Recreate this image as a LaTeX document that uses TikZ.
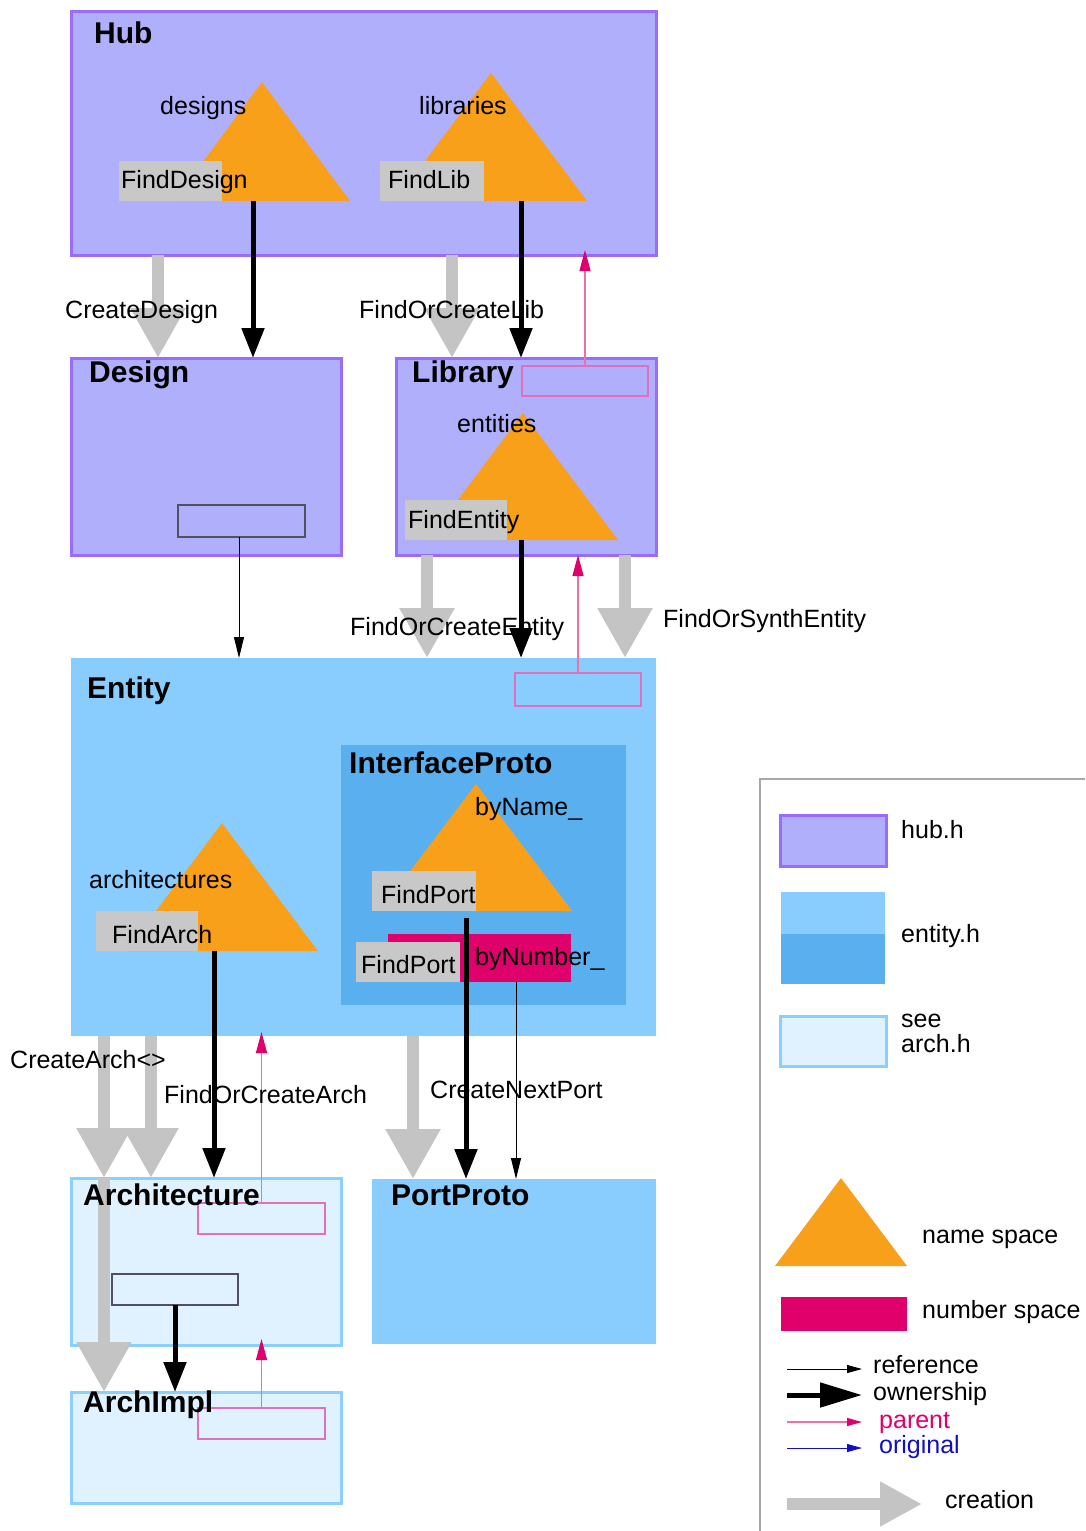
\documentclass[tikz,border=0pt]{standalone}
\usepackage{fontspec}
\setmainfont{Liberation Sans}
\usetikzlibrary{arrows.meta}
\definecolor{hubfill}{HTML}{AFAFFC}
\definecolor{hubline}{HTML}{9A6BFF}
\definecolor{entfill}{HTML}{88CDFE}
\definecolor{entdark}{HTML}{5AB0EE}
\definecolor{archfill}{HTML}{E0F1FF}
\definecolor{archline}{HTML}{8ACFFF}
\definecolor{nsorange}{HTML}{F9A01B}
\definecolor{numfill}{HTML}{E0006B}
\definecolor{lblgray}{HTML}{C8C8C8}
\definecolor{creategray}{HTML}{C4C4C4}
\definecolor{parentline}{HTML}{EE70AA}
\definecolor{parenthead}{HTML}{E0006B}
\definecolor{pinkbox}{HTML}{E070BE}
\definecolor{origblue}{HTML}{1010C0}
\definecolor{refbox}{HTML}{505060}
\definecolor{legline}{HTML}{A8A8A8}
\begin{document}
\begin{tikzpicture}[x=1pt,y=-1pt,
  box/.style={anchor=north west, inner sep=0pt, outer sep=0pt},
  hubbox/.style={box, fill=hubfill, draw=hubline, line width=3pt},
  entbox/.style={box, fill=entfill},
  protobox/.style={box, fill=entdark},
  archbox/.style={box, fill=archfill, draw=archline, line width=3pt},
  refrect/.style={box, draw=refbox, line width=1.2pt},
  pinkrect/.style={box, draw=pinkbox, line width=1.2pt},
  numrect/.style={box, fill=numfill},
  lblbox/.style={box, fill=lblgray},
  nsfill/.style={fill=nsorange},
  txt/.style={anchor=base west, inner sep=0pt, font=\fontsize{25}{28}\selectfont},
  ttl/.style={anchor=base west, inner sep=0pt, font=\fontsize{30}{34}\selectfont\bfseries},
  createarrow/.style={draw=creategray, line width=12pt, line cap=butt, -{Triangle[width=52pt,length=50pt]}},
  ownarrow/.style={draw=black, line width=5pt, line cap=butt, -{Triangle[width=22pt,length=30pt]}},
  refarrow/.style={draw=black, line width=0.9pt, -{Triangle[width=10pt,length=21pt]}},
  parentarrow/.style={draw=parentline, line width=1.3pt, -{Triangle[width=11pt,length=21pt,color=parenthead]}},
]
% background and fixed bounds
\useasboundingbox (0,0) rectangle (1085,1531);
\fill[white] (0,0) rectangle (1085,1531);

% ---------- main boxes ----------
\node[hubbox, minimum width=585pt, minimum height=244pt] (hub) at (71,11) {};
\node[hubbox, minimum width=270pt, minimum height=197pt] (design) at (71,358) {};
\node[hubbox, minimum width=260pt, minimum height=197pt] (library) at (396,358) {};
\node[entbox, minimum width=585pt, minimum height=378pt] (entity) at (71,658) {};
\node[protobox, minimum width=285pt, minimum height=260pt] (iproto) at (341,745) {};
\node[archbox, minimum width=270pt, minimum height=167pt] (arch) at (71,1178) {};
\node[archbox, minimum width=270pt, minimum height=111pt] (archimpl) at (71,1392) {};
\node[entbox, minimum width=284pt, minimum height=165pt] (portproto) at (372,1179) {};

% ---------- inner rectangles ----------
\node[refrect, minimum width=127pt, minimum height=32pt] (dref) at (178,505) {};
\node[pinkrect, minimum width=126pt, minimum height=30pt] (lpink) at (522,366) {};
\node[pinkrect, minimum width=126pt, minimum height=33pt] (epink) at (515,673) {};
\node[pinkrect, minimum width=127pt, minimum height=31pt] (apink) at (198,1203) {};
\node[refrect, minimum width=126pt, minimum height=31pt] (aref) at (112,1274) {};
\node[pinkrect, minimum width=127pt, minimum height=31pt] (ipink) at (198,1408) {};

% ---------- name spaces ----------
\fill[nsfill] (262,82) -- (174,201) -- (350,201) -- cycle;
\fill[nsfill] (491,73) -- (395,201) -- (587,201) -- cycle;
\fill[nsfill] (523,413) -- (428,540) -- (618,540) -- cycle;
\fill[nsfill] (476,784) -- (380,911) -- (572,911) -- cycle;
\fill[nsfill] (222,823) -- (126,951) -- (318,951) -- cycle;

% ---------- number space ----------
\node[numrect, minimum width=183pt, minimum height=48pt] (bynum) at (388,934) {};

% ---------- label boxes ----------
\node[lblbox, minimum width=103pt, minimum height=40pt] (fdbox) at (119,161) {};
\node[lblbox, minimum width=104pt, minimum height=40pt] (flbox) at (380,161) {};
\node[lblbox, minimum width=102pt, minimum height=40pt] (febox) at (405,500) {};
\node[lblbox, minimum width=104pt, minimum height=40pt] (fpbox) at (372,871) {};
\node[lblbox, minimum width=104pt, minimum height=40pt] (fpbox2) at (356,942) {};
\node[lblbox, minimum width=102pt, minimum height=40pt] (fabox) at (96,911) {};

% ---------- coordinates for connector positions ----------
\coordinate (xcd) at (158,0);
\coordinate (dtri) at (253,201);
\coordinate (xcl) at (452,0);
\coordinate (ltri) at (521,201);
\coordinate (xdr) at (239,0);
\coordinate (xce) at (427,0);
\coordinate (etri) at (521,540);
\coordinate (xse) at (625,0);
\coordinate (xca1) at (104,0);
\coordinate (xca2) at (151,0);
\coordinate (atri) at (214,951);
\coordinate (xcp) at (413,0);
\coordinate (ptri) at (466,918);
\coordinate (nref) at (516,982);

% ---------- connectors ----------
\draw[createarrow] (hub.south -| xcd) -- (design.north -| xcd);
\draw[ownarrow] (dtri) -- (design.north -| dtri);
\draw[createarrow] (hub.south -| xcl) -- (library.north -| xcl);
\draw[ownarrow] (ltri) -- (library.north -| ltri);
\draw[parentarrow] (lpink.north) -- ([yshift=5pt]hub.south -| lpink.north);

\draw[refarrow] (dref.south -| xdr) -- (entity.north -| xdr);
\draw[createarrow] (library.south -| xce) -- (entity.north -| xce);
\draw[ownarrow] (etri) -- (entity.north -| etri);
\draw[createarrow] (library.south -| xse) -- (entity.north -| xse);
\draw[parentarrow] (epink.north) -- (library.south -| epink.north);

\draw[createarrow] (entity.south -| xca1) -- (arch.north -| xca1);
\draw[createarrow] (entity.south -| xca2) -- (arch.north -| xca2);
\draw[createarrow] (arch.north -| xca1) -- (archimpl.north -| xca1);
\draw[ownarrow] (atri) -- (arch.north -| atri);
\draw[parentarrow] (apink.north) -- ([yshift=4pt]entity.south -| apink.north);

\draw[createarrow] (entity.south -| xcp) -- (portproto.north -| xcp);
\draw[ownarrow] (ptri) -- (portproto.north -| ptri);
\draw[refarrow] (nref) -- (portproto.north -| nref);

\draw[ownarrow] (aref.south) -- (archimpl.north -| aref.south);
\draw[parentarrow] (ipink.north) -- ([yshift=6pt]arch.south -| ipink.north);

% ---------- titles ----------
\node[ttl] (thub) at (94,43) {Hub};
\node[ttl] (tdesign) at (89,382) {Design};
\node[ttl] (tlib) at (412,382) {Library};
\node[ttl] (tent) at (87,698) {Entity};
\node[ttl] (tip) at (349,773) {InterfaceProto};
\node[ttl] (tarch) at (83,1205) {Architecture};
\node[ttl] (tpp) at (391,1205) {PortProto};
\node[ttl] (tai) at (83,1412) {ArchImpl};

% ---------- texts ----------
\node[txt] (ldesigns) at (160,114) {designs};
\node[txt] (llibs) at (419,114) {libraries};
\node[txt] (lfd) at (121,188) {FindDesign};
\node[txt] (lfl) at (388,188) {FindLib};
\node[txt] (lcd) at (65,318) {CreateDesign};
\node[txt] (lfocl) at (359,318) {FindOrCreateLib};
\node[txt] (lents) at (457,432) {entities};
\node[txt] (lfe) at (408,528) {FindEntity};
\node[txt] (lfoce) at (350,635) {FindOrCreateEntity};
\node[txt] (lfose) at (663,627) {FindOrSynthEntity};
\node[txt] (lbyname) at (475,815) {byName\_};
\node[txt] (larchs) at (89,888) {architectures};
\node[txt] (lfp) at (381,903) {FindPort};
\node[txt] (lfa) at (112,943) {FindArch};
\node[txt] (lfp2) at (361,973) {FindPort};
\node[txt] (lbynum) at (475,965) {byNumber\_};
\node[txt] (lca) at (10,1068) {CreateArch<>};
\node[txt] (lfoca) at (164,1103) {FindOrCreateArch};
\node[txt] (lcnp) at (430,1098) {CreateNextPort};

% ---------- legend ----------
\draw[legline, line width=2pt] (1085,779) -- (760,779) -- (760,1531);
\node[hubbox, minimum width=106pt, minimum height=51pt] (lghub) at (780,815) {};
\node[entbox, minimum width=104pt, minimum height=42pt] (lgent) at (781,892) {};
\node[protobox, minimum width=104pt, minimum height=50pt] (lgent2) at (781,934) {};
\node[archbox, minimum width=106pt, minimum height=50pt] (lgarch) at (780,1016) {};
\fill[nsfill] (841,1178) -- (775,1266) -- (907,1266) -- cycle;
\node[numrect, minimum width=126pt, minimum height=34pt] (lgnum) at (781,1297) {};

\coordinate (lr1) at (787,1369); \coordinate (lr2) at (862,1369);
\coordinate (lo1) at (787,1395); \coordinate (lo2) at (862,1395);
\coordinate (lp1) at (787,1422); \coordinate (lp2) at (862,1422);
\coordinate (lb1) at (787,1448); \coordinate (lb2) at (862,1448);
\coordinate (lc1) at (787,1504); \coordinate (lc2) at (922,1504);
\draw[black, line width=0.9pt, -{Triangle[width=8pt,length=15pt]}] (lr1) -- (lr2);
\draw[black, line width=5pt, line cap=butt, -{Triangle[width=24pt,length=42pt]}] (lo1) -- (lo2);
\draw[parentline, line width=1.3pt, -{Triangle[width=8pt,length=15pt,color=parenthead]}] (lp1) -- (lp2);
\draw[origblue, line width=0.9pt, -{Triangle[width=8pt,length=15pt]}] (lb1) -- (lb2);
\draw[creategray, line width=12pt, line cap=butt, -{Triangle[width=42pt,length=42pt]}] (lc1) -- (lc2);

\node[txt] (lghubt) at (901,838) {hub.h};
\node[txt] (lgentt) at (901,942) {entity.h};
\node[txt] (lgsee) at (901,1027) {see};
\node[txt] (lgarcht) at (901,1052) {arch.h};
\node[txt] (lgns) at (922,1243) {name space};
\node[txt] (lgnumt) at (922,1318) {number space};
\node[txt] (lgref) at (873,1373) {reference};
\node[txt] (lgown) at (873,1400) {ownership};
\node[txt, text=parenthead] (lgpar) at (879,1428) {parent};
\node[txt, text=origblue] (lgorig) at (879,1453) {original};
\node[txt] (lgcre) at (945,1508) {creation};
\end{tikzpicture}
\end{document}
